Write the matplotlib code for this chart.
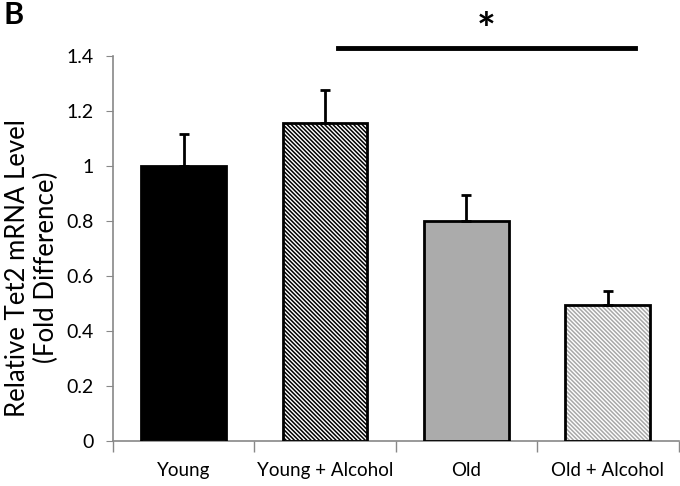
import matplotlib.pyplot as plt
import numpy as np

plt.rcParams['font.family'] = ['Lato', 'DejaVu Sans']
plt.rcParams['hatch.linewidth'] = 1.1

groups = ['Young', 'Young + Alcohol', 'Old', 'Old + Alcohol']
means = [1.0, 1.155, 0.80, 0.495]
errs = [0.115, 0.12, 0.095, 0.05]
fills = ['black', 'white', '#ababab', 'white']
hatches = [None, '\\' * 8, None, '\\' * 8]
hatch_cols = ['black', 'black', 'black', '#a8a8a8']
yticks = [0, 0.2, 0.4, 0.6, 0.8, 1, 1.2, 1.4]

fig = plt.figure(figsize=(6.8, 4.86), dpi=100)
ax = fig.add_axes([0.166, 0.0926, 0.832, 0.792])

x = np.arange(len(groups))
for i in range(len(groups)):
    # fill + hatch drawn first, black outline on top
    ax.bar(x[i], means[i], width=0.6, color=fills[i], edgecolor=hatch_cols[i],
           hatch=hatches[i], linewidth=0, zorder=2)
    ax.bar(x[i], means[i], width=0.6, fill=False, edgecolor='black',
           linewidth=2, zorder=3)
ax.errorbar(x, means, yerr=[np.zeros(len(errs)), errs], fmt='none',
            ecolor='black', elinewidth=2, capsize=3.5, capthick=2, zorder=4)

ax.set_xlim(-0.5, 3.5)
ax.set_ylim(0, 1.4)
ax.set_yticks(yticks)
ax.set_yticklabels(['0', '0.2', '0.4', '0.6', '0.8', '1', '1.2', '1.4'])
ax.set_xticks(np.arange(-0.5, 4, 1))
ax.set_xticklabels([])
ax.set_xticks(x, minor=True)
ax.set_xticklabels(groups, minor=True)
ax.tick_params(axis='x', which='major', direction='out', length=8,
               color='#888888', width=1)
ax.tick_params(axis='x', which='minor', length=0, pad=15, labelsize=13.5)
ax.tick_params(axis='y', direction='out', length=5, color='#888888',
               labelsize=14, pad=9)
for s in ['top', 'right']:
    ax.spines[s].set_visible(False)
for s in ['left', 'bottom']:
    ax.spines[s].set_color('#888888')
    ax.spines[s].set_linewidth(1.2)

ax.set_ylabel('Relative Tet2 mRNA Level\n(Fold Difference)', fontsize=18.5,
              linespacing=1.2)
ax.yaxis.set_label_coords(-0.095, 0.45)

# significance bar
ax.plot([1.095, 3.19], [1.43, 1.43], color='black', linewidth=3.5,
        clip_on=False, zorder=5)
ax.text(2.14, 1.42, '*', ha='center', va='bottom', fontsize=32,
        fontweight='bold')

fig.text(0.005, 0.998, 'B', ha='left', va='top', fontsize=22, fontweight='bold')

fig.savefig('out.png', dpi=100)
